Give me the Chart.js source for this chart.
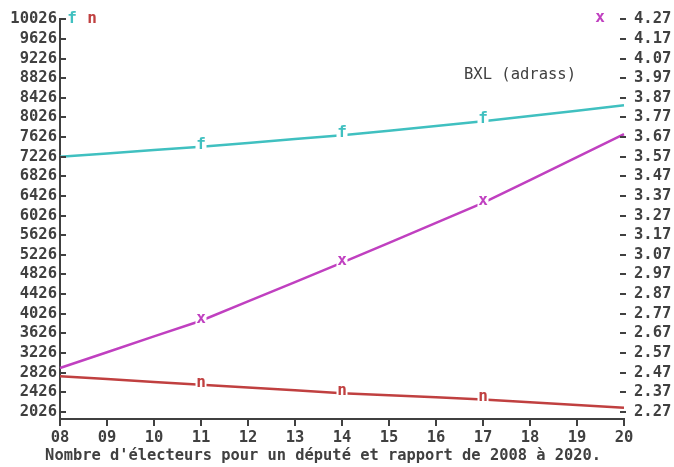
<!DOCTYPE html>
<html><head><meta charset="utf-8">
<script src="https://cdn.jsdelivr.net/npm/chart.js@4"></script>
<style>html,body{margin:0;padding:0;background:#fff}#wrap{width:674px;height:467px}</style>
</head><body><div id="wrap"><canvas id="c" width="674" height="467"></canvas></div>
<script>
const years = ['08','09','10','11','12','13','14','15','16','17','18','19','20'];
const seriesF = [7225,7292,7361,7428,7505,7584,7661,7756,7853,7948,8056,8163,8272];
const seriesN = [2750,2693,2635,2578,2521,2463,2406,2363,2321,2278,2222,2165,2108];
const seriesX = [2.493,2.573,2.654,2.734,2.833,2.931,3.030,3.131,3.233,3.334,3.451,3.568,3.685];
const leftTicks = [2026,2426,2826,3226,3626,4026,4426,4826,5226,5626,6026,6426,6826,7226,7626,8026,8426,8826,9226,9626,10026];
const rightTicks = [2.27,2.37,2.47,2.57,2.67,2.77,2.87,2.97,3.07,3.17,3.27,3.37,3.47,3.57,3.67,3.77,3.87,3.97,4.07,4.17,4.27];
const markerYears = ['11','14','17'];
const seriesLetters = ['f','n','x'];
const titleText = "Nombre d'électeurs pour un député et rapport de 2008 à 2020.";
const noteText = 'BXL (adrass)';

const INK = '#404040';
const CYAN = 'rgb(64,192,192)';
const RED = 'rgb(192,64,64)';
const MAG = 'rgb(192,64,192)';
const MONO = "'DejaVu Sans Mono', 'Liberation Mono', monospace";
const tickFont = {family: MONO, size: 15.5, weight: 'bold'};

const decor = {
  id: 'decor',
  afterDatasetsDraw(chart) {
    const ctx = chart.ctx;
    ctx.save();
    ctx.font = 'bold 16px ' + MONO;
    ctx.textAlign = 'center';
    ctx.textBaseline = 'alphabetic';
    chart.data.datasets.forEach((ds, di) => {
      const meta = chart.getDatasetMeta(di);
      markerYears.forEach(yr => {
        const i = years.indexOf(yr);
        const p = meta.data[i];
        const w = 11;
        ctx.fillStyle = '#fff';
        ctx.fillRect(p.x - w / 2, p.y - 14, w, 18);
        ctx.fillStyle = ds.borderColor;
        ctx.fillText(seriesLetters[di], p.x, p.y + 2);
      });
    });
    ctx.restore();
  },
  afterDraw(chart) {
    const ctx = chart.ctx;
    const ys = chart.scales.y, y1 = chart.scales.y1;
    ctx.save();
    ctx.strokeStyle = INK;
    ctx.lineWidth = 2;
    ys.ticks.forEach(t => {
      const py = Math.round(ys.getPixelForValue(t.value));
      ctx.beginPath(); ctx.moveTo(ys.right, py); ctx.lineTo(ys.right + 6, py); ctx.stroke();
    });
    y1.ticks.forEach(t => {
      const py = Math.round(y1.getPixelForValue(t.value));
      ctx.beginPath(); ctx.moveTo(y1.left - 4, py); ctx.lineTo(y1.left + 2, py); ctx.stroke();
    });
    ctx.font = 'bold 16px ' + MONO;
    ctx.textBaseline = 'alphabetic';
    ctx.textAlign = 'center';
    ctx.fillStyle = CYAN; ctx.fillText(seriesLetters[0], 72, 23);
    ctx.fillStyle = RED; ctx.fillText(seriesLetters[1], 92, 23);
    ctx.fillStyle = MAG; ctx.fillText(seriesLetters[2], 600, 22);
    ctx.font = '15.5px ' + MONO;
    ctx.fillStyle = INK;
    ctx.textBaseline = 'middle';
    ctx.fillText(noteText, 520, 75);
    ctx.restore();
  }
};

new Chart(document.getElementById('c'), {
  type: 'line',
  data: {
    labels: years,
    datasets: [
      {label: 'f', data: seriesF, yAxisID: 'y', borderColor: CYAN, borderWidth: 2.5, pointRadius: 0, tension: 0, fill: false},
      {label: 'n', data: seriesN, yAxisID: 'y', borderColor: RED, borderWidth: 2.5, pointRadius: 0, tension: 0, fill: false},
      {label: 'x', data: seriesX, yAxisID: 'y1', borderColor: MAG, borderWidth: 2.5, pointRadius: 0, tension: 0, fill: false}
    ]
  },
  options: {
    responsive: false,
    devicePixelRatio: 1,
    animation: false,
    layout: {padding: {top: 17, left: 0, right: 0, bottom: 0}},
    plugins: {
      legend: {display: false},
      tooltip: {enabled: false},
      title: {display: true, position: 'bottom', align: 'center', text: titleText + '   ', color: INK,
              font: {family: MONO, size: 15.4, weight: 'bold', lineHeight: 1.2}, padding: {top: 0, bottom: 2}}
    },
    scales: {
      x: {
        type: 'category', offset: false,
        grid: {display: true, drawOnChartArea: false, drawTicks: true, tickLength: 7, color: INK, lineWidth: 2},
        border: {display: true, color: INK, width: 2},
        ticks: {color: INK, font: tickFont, padding: 3, maxRotation: 0, autoSkip: false},
        afterFit: s => { s.height = 27.5; }
      },
      y: {
        type: 'linear', position: 'left', min: 1879, max: 10026,
        afterBuildTicks: s => { s.ticks = leftTicks.map(v => ({value: v})); },
        grid: {display: false, drawTicks: false},
        border: {display: true, color: INK, width: 2},
        ticks: {color: INK, font: tickFont, padding: 3, autoSkip: false, callback: v => String(v)},
        afterFit: s => { s.width = 60; }
      },
      y1: {
        type: 'linear', position: 'right', min: 2.233, max: 4.27,
        afterBuildTicks: s => { s.ticks = rightTicks.map(v => ({value: v})); },
        grid: {display: false, drawTicks: false},
        border: {display: false},
        ticks: {color: INK, font: tickFont, padding: 10, autoSkip: false, callback: v => Number(v).toFixed(2)},
        afterFit: s => { s.width = 50; }
      }
    }
  },
  plugins: [decor]
});
</script>
</body></html>
